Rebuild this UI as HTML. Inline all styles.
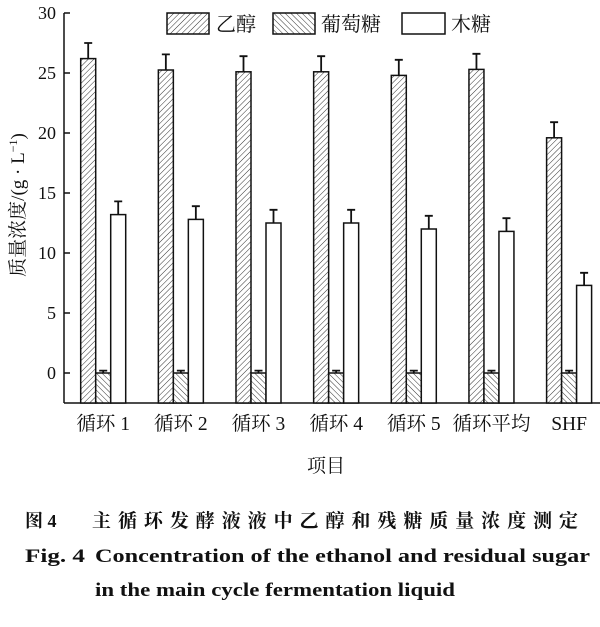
<!DOCTYPE html>
<html><head><meta charset="utf-8"><style>
body{margin:0;background:#fff;width:600px;height:622px;overflow:hidden}
text{font-family:"Liberation Serif","Noto Serif CJK SC",serif;fill:#111}
</style></head><body>
<svg id="chart" width="600" height="622">
<defs>
<pattern id="fwd" patternUnits="userSpaceOnUse" width="4" height="4" patternTransform="rotate(45)"><rect width="4" height="4" fill="#fff"/><line x1="0" y1="0" x2="0" y2="4" stroke="#333" stroke-width="1"/></pattern>
<pattern id="bwd" patternUnits="userSpaceOnUse" width="4" height="4" patternTransform="rotate(-45)"><rect width="4" height="4" fill="#fff"/><line x1="0" y1="0" x2="0" y2="4" stroke="#333" stroke-width="1"/></pattern>
</defs>
<g id="plot"></g>
<g>
<rect x="167" y="13" width="42" height="21" fill="url(#fwd)" stroke="#111" stroke-width="1.5"/>
<text x="216" y="31" font-size="20">乙醇</text>
<rect x="273" y="13" width="42" height="21" fill="url(#bwd)" stroke="#111" stroke-width="1.5"/>
<text x="321" y="31" font-size="20">葡萄糖</text>
<rect x="402" y="13" width="43" height="21" fill="#fff" stroke="#111" stroke-width="1.5"/>
<text x="451" y="31" font-size="20">木糖</text>
</g>
<text x="326" y="472" font-size="19" text-anchor="middle">项目</text>
<text transform="translate(24,205) rotate(-90)" font-size="19" text-anchor="middle">质量浓度/(g · L<tspan font-size="12" dy="-7">−1</tspan><tspan dy="7">)</tspan></text>
<g>
<text x="25" y="527" font-size="18" font-weight="bold" font-family="Noto Serif CJK SC,serif">图 4</text>
<text x="92" y="527" font-size="19" font-weight="bold" font-family="Noto Serif CJK SC,serif" textLength="486" lengthAdjust="spacing">主循环发酵液液中乙醇和残糖质量浓度测定</text>
<text x="25" y="562" font-size="19" font-weight="bold" textLength="60" lengthAdjust="spacingAndGlyphs">Fig. 4</text>
<text x="95" y="562" font-size="19" font-weight="bold" textLength="495" lengthAdjust="spacingAndGlyphs">Concentration of the ethanol and residual sugar</text>
<text x="95" y="596" font-size="19" font-weight="bold" textLength="360" lengthAdjust="spacingAndGlyphs">in the main cycle fermentation liquid</text>
</g>
</svg>
<script>
const categories=["循环 1","循环 2","循环 3","循环 4","循环 5","循环平均","SHF"];
const ethanol=[26.2,25.25,25.1,25.1,24.8,25.3,19.6];
const ethanolErr=[1.3,1.3,1.3,1.3,1.3,1.3,1.3];
const glucose=[0,0,0,0,0,0,0];
const glucoseErr=[0.2,0.2,0.2,0.2,0.2,0.2,0.2];
const xylose=[13.2,12.8,12.5,12.5,12.0,11.8,7.3];
const xyloseErr=[1.1,1.1,1.1,1.1,1.1,1.1,1.05];
const yTicks=[0,5,10,15,20,25,30];
const NS="http://www.w3.org/2000/svg";
const g=document.getElementById('plot');
const y=v=>373-v*12;
const yBase=403;
const gx=i=>80.7+i*77.65;
const bw=15;
function mk(t,a){const e=document.createElementNS(NS,t);for(const k in a)e.setAttribute(k,a[k]);g.appendChild(e);return e;}
let ax=mk('line',{x1:64,y1:13,x2:64,y2:yBase,stroke:'#111','stroke-width':1.5});


let bx=mk('line',{x1:64,y1:yBase,x2:600,y2:yBase,stroke:'#111','stroke-width':1.5});


yTicks.forEach(t=>{
  const l=mk('line',{x1:64,y1:y(t),x2:70,y2:y(t),stroke:'#111','stroke-width':1.5});
  
  
  const tx=mk('text',{x:56,y:y(t)+6,'font-size':18,'text-anchor':'end'});tx.textContent=t;
  
  
});
const series=[[ethanol,ethanolErr,'url(#fwd)','ethanol'],[glucose,glucoseErr,'url(#bwd)','glucose'],[xylose,xyloseErr,'#fff','xylose']];
categories.forEach((c,i)=>{
  series.forEach((s,j)=>{
    const x0=gx(i)+j*bw,v=s[0][i],e=s[1][i];
    const r=mk('rect',{x:x0,y:y(v),width:bw,height:yBase-y(v),fill:s[2],stroke:'#111','stroke-width':1.5});
    
    
    const cx=x0+bw/2;
    const el=mk('path',{d:`M${cx},${y(v)}V${y(v+e)}M${cx-4},${y(v+e)}H${cx+4}`,stroke:'#111','stroke-width':1.8,fill:'none'});
    
    
  });
  const t=mk('text',{x:gx(i)+22.5,y:430,'font-size':19.5,'text-anchor':'middle'});t.textContent=c;
  
  
});
</script>
</body></html>
